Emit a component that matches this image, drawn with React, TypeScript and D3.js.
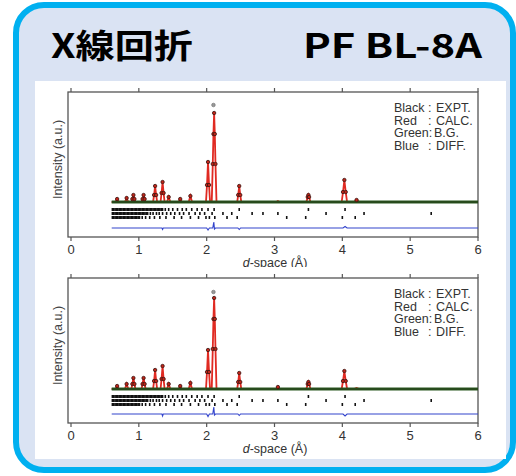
import React from 'react';
import * as d3 from 'd3';

// d-spacing axis
const xTicks = [0, 1, 2, 3, 4, 5, 6];

// calculated profile, shared d positions (Å)
const profileD = [
  0.6, 0.655, 0.68, 0.705, 0.795, 0.82, 0.845, 0.89, 0.905, 0.92, 0.935, 0.95,
  1.04, 1.055, 1.07, 1.085, 1.1, 1.21, 1.225, 1.24, 1.255, 1.27, 1.32, 1.335,
  1.35, 1.365, 1.38, 1.415, 1.44, 1.465, 1.585, 1.61, 1.635, 1.735, 1.76, 1.785,
  1.99, 2.005, 2.02, 2.035, 2.05, 2.075, 2.09, 2.1, 2.11, 2.12, 2.13, 2.145,
  2.45, 2.465, 2.48, 2.495, 2.51, 3.025, 3.05, 3.075, 3.47, 3.49, 3.5, 3.51,
  3.53, 3.99, 4.01, 4.03, 4.05, 4.07, 4.17, 4.21, 4.25, 6.0,
];
const topCalc = [
  0, 0, 3, 0, 0, 4, 0, 0, 3, 7, 3, 0,
  0, 3, 7, 3, 0, 0, 7, 16, 7, 0, 0, 9,
  20, 9, 0, 0, 5, 0, 0, 3, 0, 0, 6, 0,
  0, 17, 40, 17, 0, 0, 38, 68, 89, 68, 38, 0,
  0, 7, 16, 7, 0, 0, 1, 0, 0, 5, 7, 5,
  0, 0, 10, 22, 10, 0, 0, 2, 0, 0,
];
const bottomCalc = [
  0, 0, 3, 0, 0, 5, 0, 0, 5, 11, 5, 0,
  0, 5, 11, 5, 0, 0, 8, 19, 8, 0, 0, 10,
  23, 10, 0, 0, 5, 0, 0, 3, 0, 0, 6, 0,
  0, 17, 39, 17, 0, 0, 40, 70, 91, 70, 40, 0,
  0, 7, 16, 7, 0, 0, 2, 0, 0, 5, 7, 5,
  0, 0, 8, 18, 8, 0, 0, 1, 0, 0,
];
// the observed point that sits above the calc maximum
const obsTopPeak = [2.1, 97];

// difference curve (offset from its own baseline)
const diffD = [0.6, 1.34, 1.35, 1.36, 2.0, 2.02, 2.04, 2.09, 2.105, 2.115, 2.13, 2.46, 2.48, 2.5, 4.01, 4.04, 4.07, 6.0];
const topDiff = [0, 0, -1.5, 0, 0, -2, 0, 0, 6, -1, 0, 0, -1.5, 0, 0, 1.5, 0, 0];
const bottomDiff = [0, 0, -2, 0, 0, -2.5, 0, 0, 7, -1, 0, 0, -1.5, 0, 0, -2, 0, 0];

// reflection markers, three phases
const reflA = [
  0.61, 0.63, 0.65, 0.67, 0.69, 0.71, 0.73, 0.75, 0.77, 0.79, 0.81, 0.83, 0.85,
  0.87, 0.89, 0.91, 0.93, 0.95, 0.97, 0.99, 1.01, 1.03, 1.05, 1.07, 1.09, 1.11,
  1.13, 1.15, 1.17, 1.19, 1.21, 1.23, 1.25, 1.27, 1.29, 1.31, 1.33, 1.35,
  1.39, 1.44, 1.5, 1.57, 1.64, 1.7, 1.78, 1.86, 1.93, 2.02, 2.11, 2.48, 3.5, 4.04,
];
const reflB = [
  0.61, 0.63, 0.65, 0.67, 0.69, 0.71, 0.73, 0.75, 0.77, 0.79, 0.81, 0.83, 0.85,
  0.87, 0.89, 0.91, 0.93, 0.95, 0.97, 0.99, 1.01, 1.03, 1.05, 1.07, 1.09, 1.11, 1.13,
  1.17, 1.21, 1.26, 1.3, 1.35, 1.41, 1.47, 1.53, 1.6, 1.66, 1.74, 1.83, 1.9, 1.97,
  2.08, 2.24, 2.37, 2.67, 2.83, 3.05, 3.76, 4.32, 5.31,
];
const reflC = [
  0.61, 0.63, 0.65, 0.67, 0.69, 0.71, 0.73, 0.75, 0.77, 0.79, 0.81, 0.83, 0.85,
  0.87, 0.89, 0.91, 0.93, 0.95, 0.97, 0.99, 1.01,
  1.05, 1.1, 1.16, 1.23, 1.31, 1.4, 1.52, 1.63, 1.76, 1.88, 1.99, 2.04, 2.12,
  2.3, 2.45, 3.18, 3.46, 4.0, 4.19,
];

const legendKeys = ['Black', 'Red', 'Green:', 'Blue'];
const legendValues = ['EXPT.', 'CALC.', 'B.G.', 'DIFF.'];

const W = 516;
const H = 476;
const x = d3.scaleLinear().domain([0, 6]).range([71, 478]);
const frameLeft = 68;
const font = 'Liberation Sans, Arial, sans-serif';

type PanelProps = {
  top: number;
  bottom: number;
  domain: [number, number];
  calc: number[];
  diff: number[];
  diffBase: number;
  clipBottom: number;
  id: string;
};

const Panel = ({ top, bottom, domain, calc, diff, diffBase, clipBottom, id }: PanelProps) => {
  const y = d3.scaleLinear().domain(domain).range([bottom, top]);
  const pts = profileD.map((d, i) => [d, calc[i]] as [number, number]);
  const line = d3
    .line<[number, number]>()
    .x((p) => x(p[0]))
    .y((p) => y(p[1]));
  const bgLine = line([
    [0.6, 0],
    [6, 0],
  ]);
  const diffPts = diffD.map((d, i) => [d, diffBase + diff[i]] as [number, number]);
  const rows = [
    { refl: reflA, y0: -6 },
    { refl: reflB, y0: -10 },
    { refl: reflC, y0: -14 },
  ];
  const peakPts = pts.filter((p) => p[1] > 1.5);

  return (
    <g clipPath={`url(#${id})`}>
      <clipPath id={id}>
        <rect x={0} y={0} width={W} height={clipBottom} />
      </clipPath>
      {/* frame */}
      <rect x={frameLeft} y={top} width={x(6) - frameLeft} height={bottom - top} fill="none" stroke="#555" strokeWidth={1.3} />
      {xTicks.map((t) => (
        <g key={t}>
          <line x1={x(t)} x2={x(t)} y1={top} y2={top - 4} stroke="#555" strokeWidth={1.2} />
          <line x1={x(t)} x2={x(t)} y1={bottom} y2={bottom + 4} stroke="#555" strokeWidth={1.2} />
          <text x={x(t)} y={bottom + 17} textAnchor="middle" fontSize={13} fill="#333" fontFamily={font}>
            {t}
          </text>
        </g>
      ))}
      <text
        transform={`translate(${62},${(top + bottom) / 2 - 5}) rotate(-90)`}
        textAnchor="middle"
        fontSize={12.5}
        fill="#444"
        fontFamily={font}
      >
        Intensity (a.u.)
      </text>
      <text x={275} y={bottom + 30} textAnchor="middle" fontSize={12.5} fill="#333" fontFamily={font}>
        <tspan fontStyle="italic">d</tspan>-space (Å)
      </text>

      {/* calc, background + observed band */}
      <path d={line(pts) || ''} fill="none" stroke="#e02a22" strokeWidth={1.8} />
      <path d={bgLine || ''} fill="none" stroke="#2d5a22" strokeWidth={3} />
      <path d={bgLine || ''} fill="none" stroke="#1a2a12" strokeWidth={1} opacity={0.6} />
      {peakPts.map((p, i) => (
        <circle key={i} cx={x(p[0])} cy={y(p[1])} r={1.7} fill="#c02418" stroke="#3a1410" strokeWidth={0.8} />
      ))}
      <circle cx={x(obsTopPeak[0])} cy={y(obsTopPeak[1])} r={1.8} fill="#999" stroke="#666" strokeWidth={0.6} />

      {/* reflection markers */}
      {rows.map((r, ri) =>
        r.refl.map((d, i) => (
          <line key={`${ri}-${i}`} x1={x(d)} x2={x(d)} y1={y(r.y0)} y2={y(r.y0 - 3)} stroke="#111" strokeWidth={1.6} />
        )),
      )}

      {/* difference */}
      <path d={line(diffPts) || ''} fill="none" stroke="#3344cc" strokeWidth={1.1} />

      {/* legend */}
      {legendKeys.map((k, i) => (
        <g key={k} fontSize={12.5} fill="#333" fontFamily={font}>
          <text x={394} y={top + 20 + i * 12.7}>{k}</text>
          {i !== 2 && <text x={428} y={top + 20 + i * 12.7}>:</text>}
          <text x={i === 2 ? 434 : 436} y={top + 20 + i * 12.7}>{legendValues[i]}</text>
        </g>
      ))}
    </g>
  );
};

export default function App() {
  return (
    <svg width={W} height={H} style={{ position: 'absolute', left: 0, top: 0 }}>
      <rect width={W} height={H} fill="#fff" />
      <rect x={16} y={5} width={497} height={465} rx={28} fill="#dae3f3" stroke="#00b0f0" strokeWidth={6} />
      <text x={51} y={58} fontSize={33} fontWeight="bold" fill="#000" fontFamily="Noto Sans CJK JP, sans-serif" textLength={142} lengthAdjust="spacingAndGlyphs">
        X線回折
      </text>
      <text x={303} y={58} fontSize={33} fontWeight="bold" fill="#000" fontFamily="Noto Sans CJK JP, sans-serif" textLength={179} lengthAdjust="spacingAndGlyphs">
        PF BL-8A
      </text>
      <rect x={35} y={81} width={471} height={378} fill="#fff" />
      <Panel top={92} bottom={237} domain={[-35, 110]} calc={topCalc} diff={topDiff} diffBase={-26} clipBottom={267} id="clipTop" />
      <Panel top={278} bottom={423} domain={[-34, 111]} calc={bottomCalc} diff={bottomDiff} diffBase={-25} clipBottom={H} id="clipBottom" />
    </svg>
  );
}
